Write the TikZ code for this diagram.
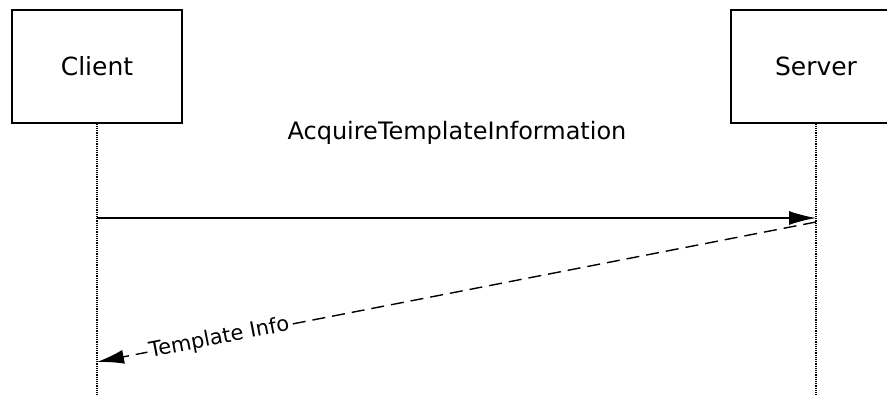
\documentclass[tikz,border=0pt]{standalone}
\usepackage{fontspec}
\setmainfont{DejaVu Sans}
\usetikzlibrary{arrows.meta}
\tikzset{
  actorbox/.style={draw,line width=1.3pt,minimum width=170pt,minimum height=113pt,font=\fontsize{25}{28}\selectfont},
  lifeline/.style={densely dotted,line width=1.2pt},
  msg/.style={line width=1.4pt,-{Latex[length=27pt,width=14pt]}},
}
\begin{document}
\begin{tikzpicture}[x=1pt,y=-1pt]
\useasboundingbox(0,0)rectangle(887,401);
\clip(0,0)rectangle(887,401);
\pgfmathsetmacro{\kcx}{97}
\pgfmathsetmacro{\ksx}{816}
\node[actorbox](client)at(\kcx,66.5){Client};
\node[actorbox](server)at(\ksx,66.5){Server};
\foreach \kn/\kx in {client/\kcx,server/\ksx}{
\coordinate(\kn end)at(\kx,396);
\draw[lifeline](\kn.south)--(\kn end);}
\coordinate(c1)at(\kcx,218);
\coordinate(s1)at(\ksx,218);
\coordinate(s2)at(\ksx,222);
\coordinate(c2)at(\kcx,362);
\draw[msg](c1)--(s1);
\node(req)at(457,133){\fontsize{24}{28}\selectfont AcquireTemplateInformation};
\draw[msg,dashed,dash pattern=on 13pt off 7pt](s2)--(c2)node[pos=0.83,sloped,fill=white,inner sep=2pt,font=\fontsize{21}{24}\selectfont]{Template Info};
\end{tikzpicture}
\end{document}
